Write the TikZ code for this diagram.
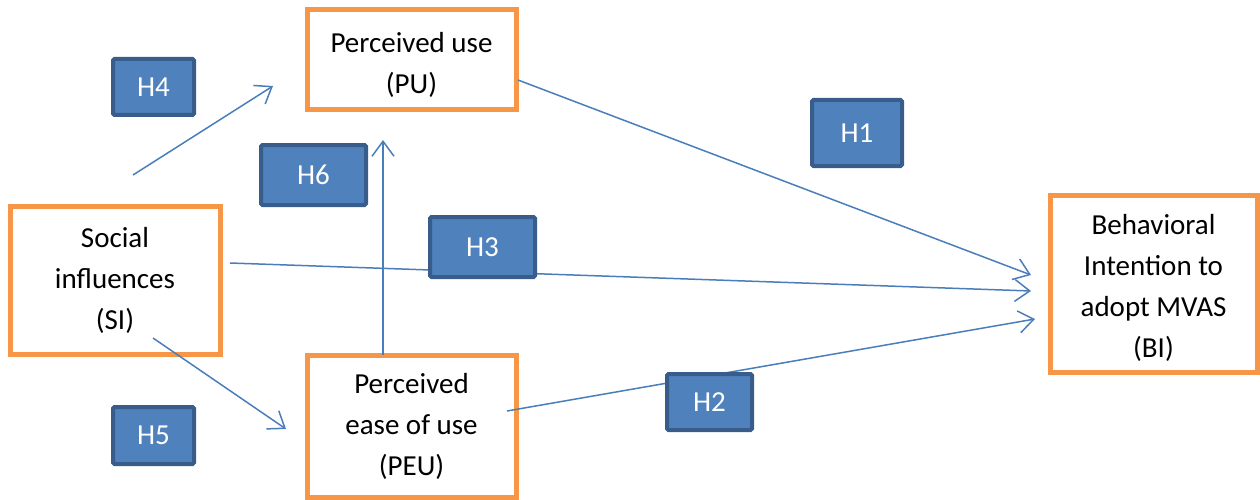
\documentclass[tikz,border=0pt]{standalone}
\usepackage{fontspec}
\setmainfont{Carlito}
\usetikzlibrary{arrows.meta}
\definecolor{boxorange}{HTML}{F79646}
\definecolor{hypfill}{HTML}{4F81BD}
\definecolor{hypedge}{HTML}{385D8A}
\definecolor{linkblue}{HTML}{4A7EBB}
% taller first line pushes a block of text slightly downwards
\newcommand\firstlinedrop{\rule{0pt}{30pt}}
\tikzset{
  construct/.style={draw=boxorange, line width=5pt, fill=white, align=center,
    inner sep=0pt, font=\fontsize{29}{41}\selectfont},
  hyp/.style={draw=hypedge, line width=4pt, fill=hypfill, text=white,
    rounded corners=1.5pt, inner sep=0pt, font=\fontsize{29}{34}\selectfont},
  link/.style={draw=linkblue, line width=1.5pt,
    -{Straight Barb[length=15pt,width=22pt,line width=1.5pt]}}
}
\begin{document}
\begin{tikzpicture}[x=1pt,y=-1pt]
\useasboundingbox (0,0) rectangle (1260,500);

% constructs
\node[construct, minimum width=209pt, minimum height=100pt] (pu) at (411.5,60) {\firstlinedrop Perceived use\\(PU)};
\node[construct, minimum width=210pt, minimum height=148pt] (si) at (115,280) {Social\\influences\\(SI)};
\node[construct, minimum width=209pt, minimum height=142pt] (peu) at (411.5,426) {Perceived\\ease of use\\(PEU)};
\node[construct, minimum width=207pt, minimum height=177pt] (bi) at (1153.5,283.5) {\firstlinedrop Behavioral\\Intention to\\adopt MVAS\\(BI)};

% connector end points
\coordinate (si-pu-a) at (133,175);
\coordinate (si-pu-b) at (273,86);
\coordinate (peu-pu-a) at (383,355);
\coordinate (peu-pu-b) at (383,140);
\coordinate (pu-bi-a) at (518,80);
\coordinate (pu-bi-b) at (1031,275);
\coordinate (si-bi-a) at (230,263);
\coordinate (si-bi-b) at (1031,291);
\coordinate (si-peu-a) at (153,338);
\coordinate (si-peu-b) at (286,429);
\coordinate (peu-bi-a) at (507,411);
\coordinate (peu-bi-b) at (1035,319);

% hypothesis paths
\draw[link] (si-pu-a) -- (si-pu-b);
\draw[link] (peu-pu-a) -- (peu-pu-b);
\draw[link] (pu-bi-a) -- (pu-bi-b);
\draw[link] (si-bi-a) -- (si-bi-b);
\draw[link] (si-peu-a) -- (si-peu-b);
\draw[link] (peu-bi-a) -- (peu-bi-b);

% hypothesis labels (on top of the paths)
\node[hyp, minimum width=81pt, minimum height=56pt] (h4) at (153.5,87) {H4};
\node[hyp, minimum width=105pt, minimum height=60pt] (h6) at (313.5,175) {H6};
\node[hyp, minimum width=90pt, minimum height=66pt] (h1) at (857,133) {H1};
\node[hyp, minimum width=105pt, minimum height=60pt] (h3) at (482.5,247) {H3};
\node[hyp, minimum width=85pt, minimum height=56pt] (h2) at (709.5,402) {H2};
\node[hyp, minimum width=81pt, minimum height=57pt] (h5) at (153.5,435.5) {H5};
\end{tikzpicture}
\end{document}
